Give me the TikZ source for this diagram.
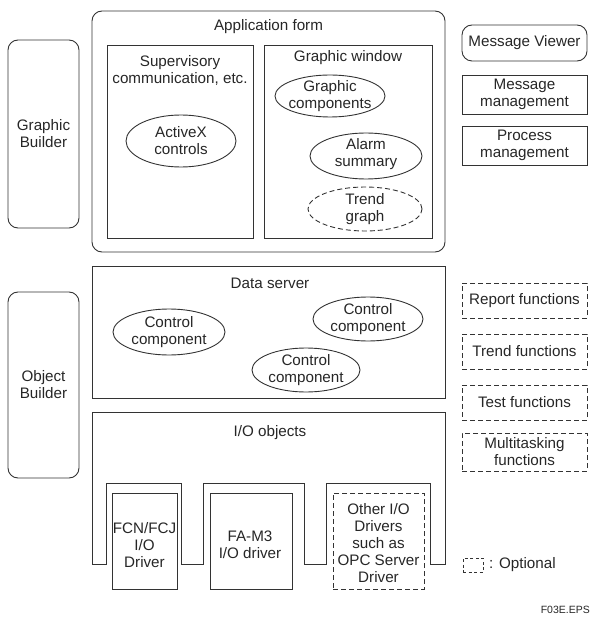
\documentclass[tikz,border=0pt]{standalone}
\usepackage{fontspec}
\setmainfont{Liberation Sans}
\usetikzlibrary{shapes.geometric}
\tikzset{
  ln/.style={draw=black!80, line width=0.9pt},
  box/.style={ln, rectangle, inner sep=0pt},
  rbox/.style={box, rounded corners=10pt},
  dbox/.style={box, dash pattern=on 5pt off 3pt},
  ell/.style={ln, ellipse, inner sep=0pt},
  dell/.style={ell, dash pattern=on 5pt off 3pt},
  txt/.style={align=center, inner sep=0pt, text=black!85, font=\fontsize{15.2}{17}\selectfont},
  small/.style={inner sep=0pt, text=black!85, font=\fontsize{10.5}{12}\selectfont},
}
\begin{document}
\begin{tikzpicture}[x=1pt,y=-1pt]
\useasboundingbox (0,0) rectangle (592,617);

% ---------- Application form ----------
\node[rbox, minimum width=353pt, minimum height=241pt] (app) at (268.5,131.5) {};
\node[txt] (appT) at (268.5,27) {Application form};

\node[box, minimum width=146pt, minimum height=193pt] (sup) at (180,141.5) {};
\node[txt] (supT) at (180,70) {Supervisory\\communication, etc.};
\node[ell, minimum width=110pt, minimum height=52pt] (activex) at (181,141) {};
\node[txt] (activexT) at (activex) {ActiveX\\controls};

\node[box, minimum width=168pt, minimum height=193pt] (gw) at (348,141.5) {};
\node[txt] (gwT) at (348,58) {Graphic window};
\node[ell, minimum width=110pt, minimum height=42pt] (gc) at (330,96) {};
\node[txt] (gcT) at (gc) {Graphic\\components};
\node[ell, minimum width=112pt, minimum height=46pt] (alarm) at (366,156) {};
\node[txt] (alarmT) at (366,154) {Alarm\\summary};
\node[dell, minimum width=114pt, minimum height=44pt] (trend) at (365,209) {};
\node[txt] (trendT) at (trend) {Trend\\graph};

% ---------- Right column ----------
\node[rbox, minimum width=125pt, minimum height=36pt] (mv) at (524.5,43) {};
\node[txt] (mvT) at (mv) {Message Viewer};
\node[box, minimum width=125pt, minimum height=39pt] (mm) at (524.5,94.5) {};
\node[txt] (mmT) at (mm) {Message\\management};
\node[box, minimum width=125pt, minimum height=39pt] (pm) at (524.5,145.5) {};
\node[txt] (pmT) at (pm) {Process\\management};

% ---------- Left column ----------
\node[rbox, minimum width=71pt, minimum height=188pt] (gb) at (43.5,134) {};
\node[txt] (gbT) at (gb) {Graphic\\Builder};
\node[rbox, minimum width=71pt, minimum height=186pt] (ob) at (43.5,385) {};
\node[txt] (obT) at (ob) {Object\\Builder};

% ---------- Data server ----------
\node[box, minimum width=353pt, minimum height=132pt] (ds) at (268.5,332) {};
\node[txt] (dsT) at (270,283) {Data server};
\node[ell, minimum width=112pt, minimum height=46pt] (cc1) at (169,332) {};
\node[txt] (cc1T) at (cc1) {Control\\component};
\node[ell, minimum width=110pt, minimum height=44pt] (cc2) at (368,319) {};
\node[txt] (cc2T) at (cc2) {Control\\component};
\node[ell, minimum width=108pt, minimum height=44pt] (cc3) at (306,370) {};
\node[txt] (cc3T) at (cc3) {Control\\component};

% ---------- I/O objects ----------
\draw[ln] (92,412) -- (92,564) -- (106,564) -- (106,483) -- (181,483) -- (181,564)
  -- (203,564) -- (203,483) -- (304,483) -- (304,564) -- (326,564) -- (326,483)
  -- (430,483) -- (430,564) -- (445,564) -- (445,412) -- cycle;
\node[txt] (ioT) at (270,433) {I/O objects};

\node[box, minimum width=65pt, minimum height=96pt] (fcn) at (144.5,541) {};
\node[txt] (fcnT) at (144.5,545) {FCN/FCJ\\I/O\\Driver};
\node[box, minimum width=82pt, minimum height=96pt] (fam3) at (251,541) {};
\node[txt] (fam3T) at (250,545) {FA-M3\\I/O driver};
\node[dbox, minimum width=91pt, minimum height=96pt] (other) at (378.5,541) {};
\node[txt] (otherT) at (378.5,543) {Other I/O\\Drivers\\such as\\OPC Server\\Driver};

% ---------- Optional functions ----------
\node[dbox, minimum width=125pt, minimum height=35pt] (rep) at (524.5,300.5) {};
\node[txt] (repT) at (rep) {Report functions};
\node[dbox, minimum width=125pt, minimum height=35pt] (trf) at (524.5,351.5) {};
\node[txt] (trfT) at (trf) {Trend functions};
\node[dbox, minimum width=125pt, minimum height=35pt] (tst) at (524.5,402.5) {};
\node[txt] (tstT) at (tst) {Test functions};
\node[dbox, minimum width=125pt, minimum height=38pt] (mt) at (524.5,452) {};
\node[txt] (mtT) at (mt) {Multitasking\\functions};

% ---------- Legend ----------
\node[box, dash pattern=on 3pt off 2.5pt, minimum width=20pt, minimum height=14pt] (leg) at (473,565) {};
\node[txt, anchor=west] (legT) at (489,565) {: Optional};

\node[small, anchor=east] (eps) at (590,610) {F03E.EPS};
\end{tikzpicture}
\end{document}
